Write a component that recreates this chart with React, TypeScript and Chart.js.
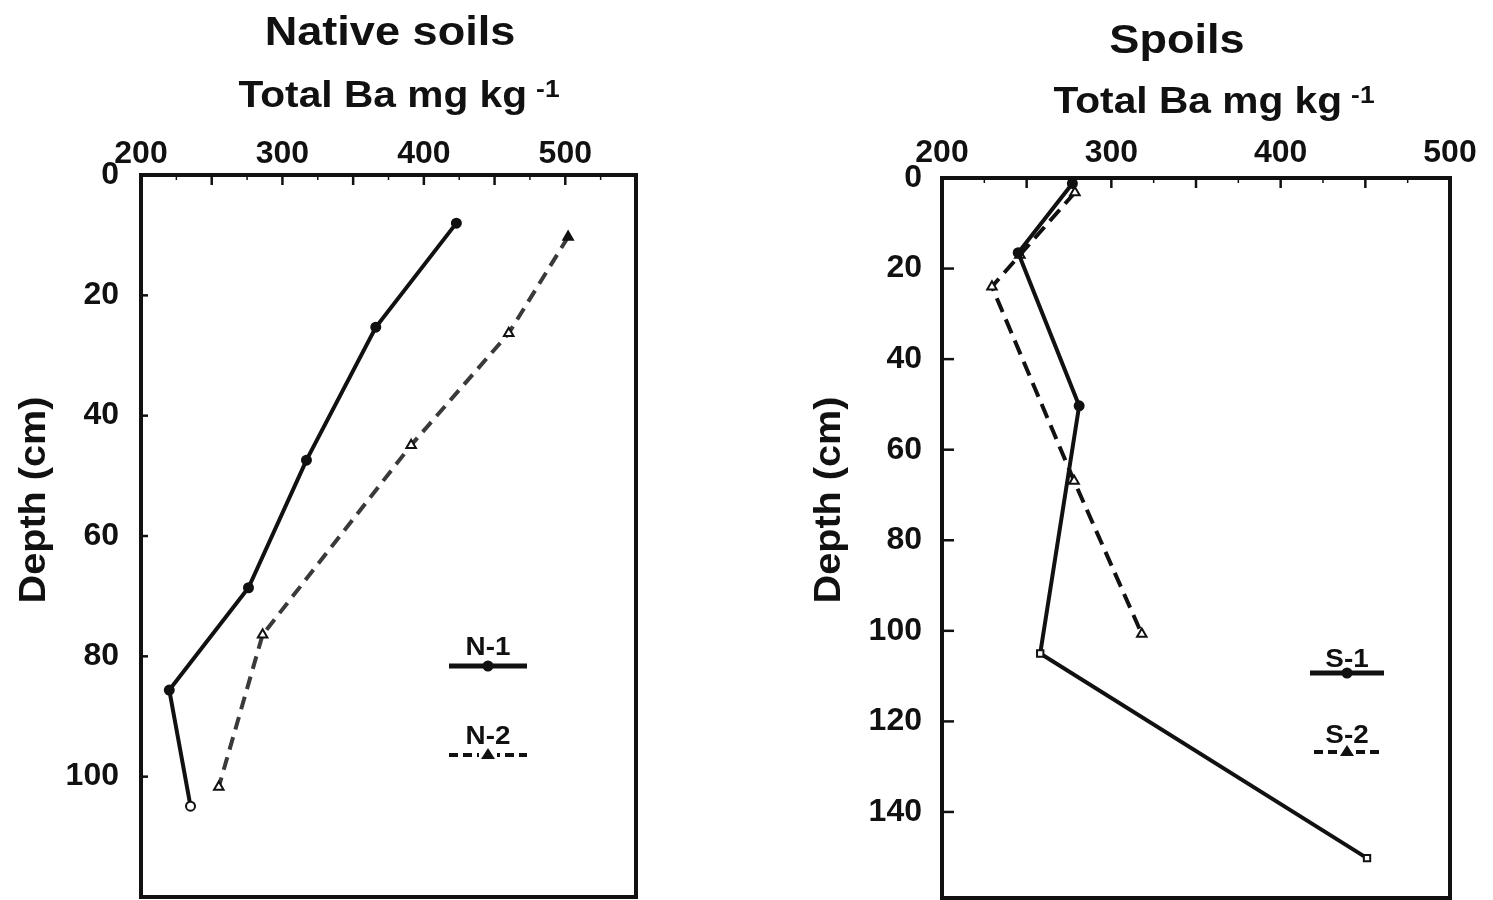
import React, { useEffect, useRef } from 'react';
import { Chart, registerables } from 'chart.js';

Chart.register(...registerables);

// ---------- data ----------
const xTickLabels = [200, 300, 400, 500];

const nativeDepthTicks = [0, 20, 40, 60, 80, 100];
const n1Ba = [423, 366, 317, 276, 220, 235];
const n1Depth = [8, 25.3, 47.4, 68.6, 85.6, 104.9];
const n2Ba = [502, 460, 391, 286, 255];
const n2Depth = [10.3, 26.3, 44.9, 76.4, 101.7];

const spoilDepthTicks = [0, 20, 40, 60, 80, 100, 120, 140];
const s1Ba = [277, 245, 281, 258, 451];
const s1Depth = [1.2, 16.5, 50.3, 105, 150.2];
const s2Ba = [278.5, 246, 229.5, 278, 318];
const s2Depth = [3.2, 17, 24, 66.9, 100.7];

const FONT = '"Liberation Sans", Arial, Helvetica, sans-serif';
const INK = '#111111';

type Series = {
  label: string;
  ba: number[];
  depth: number[];
  dashed: boolean;
  color: string;
  marker: 'circle' | 'triangle';
  openIdx: number[];
  rectIdx: number[];
  dash: number[];
};

type PanelCfg = {
  left: number;
  width: number;
  chartTop: number;
  chartLeft: number;
  padRight: number;
  padBottom: number;
  xMax: number;
  yMax: number;
  yLabels: number[];
  yTickLen: number;
  xLabelPad: number;
  yLabelPad: number;
  title: string;
  titleX: number;
  titleY: number;
  axisX: number;
  axisY: number;
  depthX: number;
  depthY: number;
  legendX: number;
  legend: { text: string; textY: number; lineY: number; dashed: boolean; marker: 'circle' | 'triangle'; half: number }[];
  series: Series[];
};

function txt(ctx: CanvasRenderingContext2D, s: string, x: number, y: number, size: number, sx: number, align: CanvasTextAlign, baseline: CanvasTextBaseline) {
  ctx.save();
  ctx.font = `bold ${size}px ${FONT}`;
  ctx.textAlign = align;
  ctx.textBaseline = baseline;
  ctx.fillStyle = INK;
  ctx.translate(x, y);
  ctx.scale(sx, 1);
  ctx.fillText(s, 0, 0);
  ctx.restore();
}

function measure(ctx: CanvasRenderingContext2D, s: string, size: number, sx: number) {
  ctx.save();
  ctx.font = `bold ${size}px ${FONT}`;
  const w = ctx.measureText(s).width * sx;
  ctx.restore();
  return w;
}

function makeDeco(cfg: PanelCfg) {
  return {
    id: 'deco',
    beforeDatasetsDraw(chart: any) {
      const ctx: CanvasRenderingContext2D = chart.ctx;
      const a = chart.chartArea;
      const xs = chart.scales.x;
      const ys = chart.scales.y;
      ctx.save();
      ctx.strokeStyle = INK;
      ctx.lineCap = 'butt';
      // inward ticks on top axis
      const xv: number[] = xs.ticks.map((t: any) => t.value);
      ctx.lineWidth = 2.5;
      xv.forEach((v, i) => {
        const px = xs.getPixelForValue(v);
        ctx.beginPath();
        ctx.moveTo(px, a.top);
        ctx.lineTo(px, a.top + 10);
        ctx.stroke();
        if (i < xv.length - 1) {
          const pm = xs.getPixelForValue((v + xv[i + 1]) / 2);
          ctx.lineWidth = 1.5;
          ctx.beginPath();
          ctx.moveTo(pm, a.top);
          ctx.lineTo(pm, a.top + 5);
          ctx.stroke();
          ctx.lineWidth = 2.5;
        }
      });
      // inward ticks on left axis
      ys.ticks.forEach((t: any) => {
        if (!cfg.yLabels.includes(t.value)) return;
        const py = ys.getPixelForValue(t.value);
        ctx.beginPath();
        ctx.moveTo(a.left, py);
        ctx.lineTo(a.left + cfg.yTickLen, py);
        ctx.stroke();
      });
      // frame
      ctx.lineWidth = 4;
      ctx.strokeRect(a.left, a.top, a.right - a.left, a.bottom - a.top);
      ctx.restore();
    },
    afterDraw(chart: any) {
      const ctx: CanvasRenderingContext2D = chart.ctx;
      const sx = 1.1;
      // panel title
      txt(ctx, cfg.title, cfg.titleX, cfg.titleY, 41, sx, 'center', 'alphabetic');
      // axis title with superscript
      const main = 'Total Ba mg kg';
      const wMain = measure(ctx, main, 37, sx);
      const wSup = measure(ctx, '-1', 24, sx);
      const gap = 9;
      const start = cfg.axisX - (wMain + gap + wSup) / 2;
      txt(ctx, main, start, cfg.axisY, 37, sx, 'left', 'alphabetic');
      txt(ctx, '-1', start + wMain + gap, cfg.axisY - 10, 24, sx, 'left', 'alphabetic');
      // depth title (rotated)
      ctx.save();
      ctx.translate(cfg.depthX, cfg.depthY);
      ctx.rotate(-Math.PI / 2);
      txt(ctx, 'Depth (cm)', 0, 0, 36, sx, 'center', 'middle');
      ctx.restore();
      // legend
      cfg.legend.forEach((it) => {
        txt(ctx, it.text, cfg.legendX, it.textY, 26, 1.07, 'center', 'middle');
        ctx.save();
        ctx.strokeStyle = INK;
        ctx.fillStyle = INK;
        ctx.lineWidth = it.dashed ? 4 : 5;
        if (it.dashed) ctx.setLineDash([9, 5]);
        ctx.beginPath();
        ctx.moveTo(cfg.legendX - it.half, it.lineY);
        ctx.lineTo(cfg.legendX + it.half, it.lineY);
        ctx.stroke();
        ctx.setLineDash([]);
        if (it.marker === 'circle') {
          ctx.beginPath();
          ctx.arc(cfg.legendX, it.lineY, 5.5, 0, Math.PI * 2);
          ctx.fill();
        } else {
          ctx.fillStyle = '#fff';
          ctx.fillRect(cfg.legendX - 9, it.lineY - 8, 18, 12);
          ctx.fillStyle = INK;
          ctx.beginPath();
          ctx.moveTo(cfg.legendX, it.lineY - 7);
          ctx.lineTo(cfg.legendX + 7, it.lineY + 4);
          ctx.lineTo(cfg.legendX - 7, it.lineY + 4);
          ctx.closePath();
          ctx.fill();
        }
        ctx.restore();
      });
    },
  };
}

function zeroPad(s: any) {
  s.paddingLeft = 0;
  s.paddingRight = 0;
  s.paddingTop = 0;
  s.paddingBottom = 0;
}

function Panel({ cfg }: { cfg: PanelCfg }) {
  const ref = useRef<HTMLCanvasElement | null>(null);
  useEffect(() => {
    if (!ref.current) return;
    const datasets = cfg.series.map((s) => ({
      label: s.label,
      data: s.ba.map((x, i) => ({ x, y: s.depth[i] })),
      showLine: true,
      borderColor: s.color,
      borderWidth: 4,
      borderDash: s.dashed ? s.dash : [],
      tension: 0,
      pointStyle: (c: any) => (s.rectIdx.includes(c.dataIndex) ? 'rect' : s.marker),
      pointRadius: (c: any) => (s.marker === 'triangle' ? 5.5 : 4.5),
      pointBackgroundColor: (c: any) => (s.openIdx.includes(c.dataIndex) ? '#ffffff' : INK),
      pointBorderColor: INK,
      pointBorderWidth: 2,
      clip: false as any,
    }));
    const tickFont = { family: FONT, size: 32, weight: 'bold' as const };
    const chart = new Chart(ref.current, {
      type: 'scatter',
      data: { datasets },
      options: {
        animation: false,
        responsive: false,
        maintainAspectRatio: false,
        layout: { autoPadding: false, padding: { left: 0, top: 0, right: cfg.padRight, bottom: cfg.padBottom } },
        plugins: { legend: { display: false }, tooltip: { enabled: false }, title: { display: false } },
        scales: {
          x: {
            type: 'linear',
            position: 'top',
            min: 200,
            max: cfg.xMax,
            grid: { display: false, drawTicks: false },
            border: { display: false },
            ticks: {
              stepSize: 50,
              autoSkip: false,
              maxRotation: 0,
              includeBounds: false,
              padding: cfg.xLabelPad,
              color: INK,
              font: tickFont,
              callback: (v: any) => (xTickLabels.includes(Number(v)) ? String(v) : ''),
            },
            afterFit: (s: any) => {
              s.height = cfg.chartTop;
              zeroPad(s);
            },
          },
          y: {
            type: 'linear',
            position: 'left',
            reverse: true,
            min: 0,
            max: cfg.yMax,
            grid: { display: false, drawTicks: false },
            border: { display: false },
            ticks: {
              stepSize: 20,
              autoSkip: false,
              includeBounds: false,
              padding: cfg.yLabelPad,
              color: INK,
              font: tickFont,
              callback: (v: any) => (cfg.yLabels.includes(Number(v)) ? String(v) : ''),
            },
            afterFit: (s: any) => {
              s.width = cfg.chartLeft;
              zeroPad(s);
            },
          },
        },
      },
      plugins: [makeDeco(cfg)],
    });
    return () => chart.destroy();
  }, []);
  return (
    <canvas
      ref={ref}
      width={cfg.width}
      height={900}
      style={{ position: 'absolute', left: cfg.left, top: 0, width: cfg.width, height: 900 }}
    />
  );
}

const nativeCfg: PanelCfg = {
  left: 0,
  width: 750,
  chartTop: 175,
  chartLeft: 141,
  padRight: 114,
  padBottom: 3,
  xMax: 550,
  yMax: 120,
  yLabels: nativeDepthTicks,
  yTickLen: 7,
  xLabelPad: 2,
  yLabelPad: 22,
  title: 'Native soils',
  titleX: 390,
  titleY: 45,
  axisX: 399,
  axisY: 107,
  depthX: 35,
  depthY: 500,
  legendX: 488,
  legend: [
    { text: 'N-1', textY: 648, lineY: 666, dashed: false, marker: 'circle', half: 39 },
    { text: 'N-2', textY: 737, lineY: 755, dashed: true, marker: 'triangle', half: 39 },
  ],
  series: [
    { label: 'N-1', ba: n1Ba, depth: n1Depth, dashed: false, color: INK, marker: 'circle', openIdx: [5], rectIdx: [], dash: [] },
    { label: 'N-2', ba: n2Ba, depth: n2Depth, dashed: true, color: '#3a3a3a', marker: 'triangle', openIdx: [1, 2, 3, 4], rectIdx: [], dash: [13, 8] },
  ],
};

const spoilCfg: PanelCfg = {
  left: 750,
  width: 743,
  chartTop: 178,
  chartLeft: 192,
  padRight: 43,
  padBottom: 2,
  xMax: 500,
  yMax: 159,
  yLabels: spoilDepthTicks,
  yTickLen: 12,
  xLabelPad: 6,
  yLabelPad: 20,
  title: 'Spoils',
  titleX: 427,
  titleY: 53,
  axisX: 464,
  axisY: 113,
  depthX: 80,
  depthY: 500,
  legendX: 597,
  legend: [
    { text: 'S-1', textY: 660, lineY: 673, dashed: false, marker: 'circle', half: 37 },
    { text: 'S-2', textY: 736, lineY: 752, dashed: true, marker: 'triangle', half: 33 },
  ],
  series: [
    { label: 'S-1', ba: s1Ba, depth: s1Depth, dashed: false, color: INK, marker: 'circle', openIdx: [3, 4], rectIdx: [3, 4], dash: [] },
    { label: 'S-2', ba: s2Ba, depth: s2Depth, dashed: true, color: INK, marker: 'triangle', openIdx: [0, 1, 2, 3, 4], rectIdx: [], dash: [15, 8] },
  ],
};

export default function App() {
  return (
    <div style={{ position: 'fixed', left: 0, top: 0, width: 1493, height: 900, background: '#fff', overflow: 'hidden' }}>
      <Panel cfg={nativeCfg} />
      <Panel cfg={spoilCfg} />
    </div>
  );
}
